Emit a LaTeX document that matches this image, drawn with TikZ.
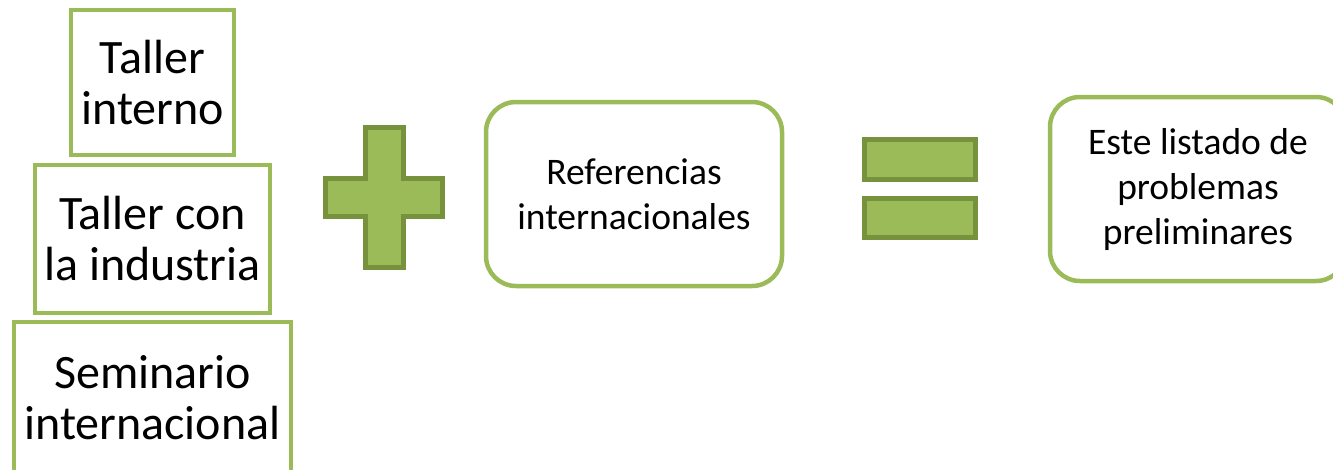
\documentclass[tikz,border=0pt]{standalone}
\usepackage{fontspec}
\setmainfont{Carlito}
\usetikzlibrary{positioning}
\definecolor{olivegreen}{RGB}{155,187,89}
\definecolor{darkolive}{RGB}{118,146,60}

\begin{document}
\begin{tikzpicture}[
        x=1pt, y=-1pt,
        node distance=10pt,
        stackbox/.style={rectangle, draw=olivegreen, line width=4.5pt, fill=white, outer sep=0pt, inner sep=2pt, align=center, font=\fontsize{48}{51}\selectfont},
        roundbox/.style={rectangle, draw=olivegreen, line width=4.5pt, rounded corners=30pt, outer sep=0pt, inner sep=2pt, minimum width=296pt, minimum height=184pt, align=center, font=\fontsize{37.5}{45}\selectfont},
        symbol/.style={draw=darkolive, fill=olivegreen, line width=5pt}
    ]
        \useasboundingbox (0,0) rectangle (1333,469);
        \clip (0,0) rectangle (1333,469);

        % left stack
        \node[stackbox, minimum width=163pt, minimum height=145pt] (interno) at (152.5,82.5) {Taller\\interno};
        \node[stackbox, minimum width=235pt, minimum height=148pt, below=10pt of interno] (industria) {Taller con\\la industria};
        \node[stackbox, minimum width=277pt, minimum height=152pt, below=9pt of industria] (seminario) {Seminario\\internacional};

        % plus sign
        \draw[symbol, shift={(384,197.5)}] (-19,-70) -- (19,-70) -- (19,-19) -- (58.5,-19) -- (58.5,19) -- (19,19) -- (19,70) -- (-19,70) -- (-19,19) -- (-58.5,19) -- (-58.5,-19) -- (-19,-19) -- cycle;

        \node[roundbox] (refs) at (634,194) {Referencias\\internacionales};

        % equals sign
        \draw[symbol] (864,139) rectangle (975,179);
        \draw[symbol] (864,198.5) rectangle (975,237.5);

        \node[roundbox] (listado) at (1198,189) {Este listado de\\problemas\\preliminares};
    \end{tikzpicture}
\end{document}
